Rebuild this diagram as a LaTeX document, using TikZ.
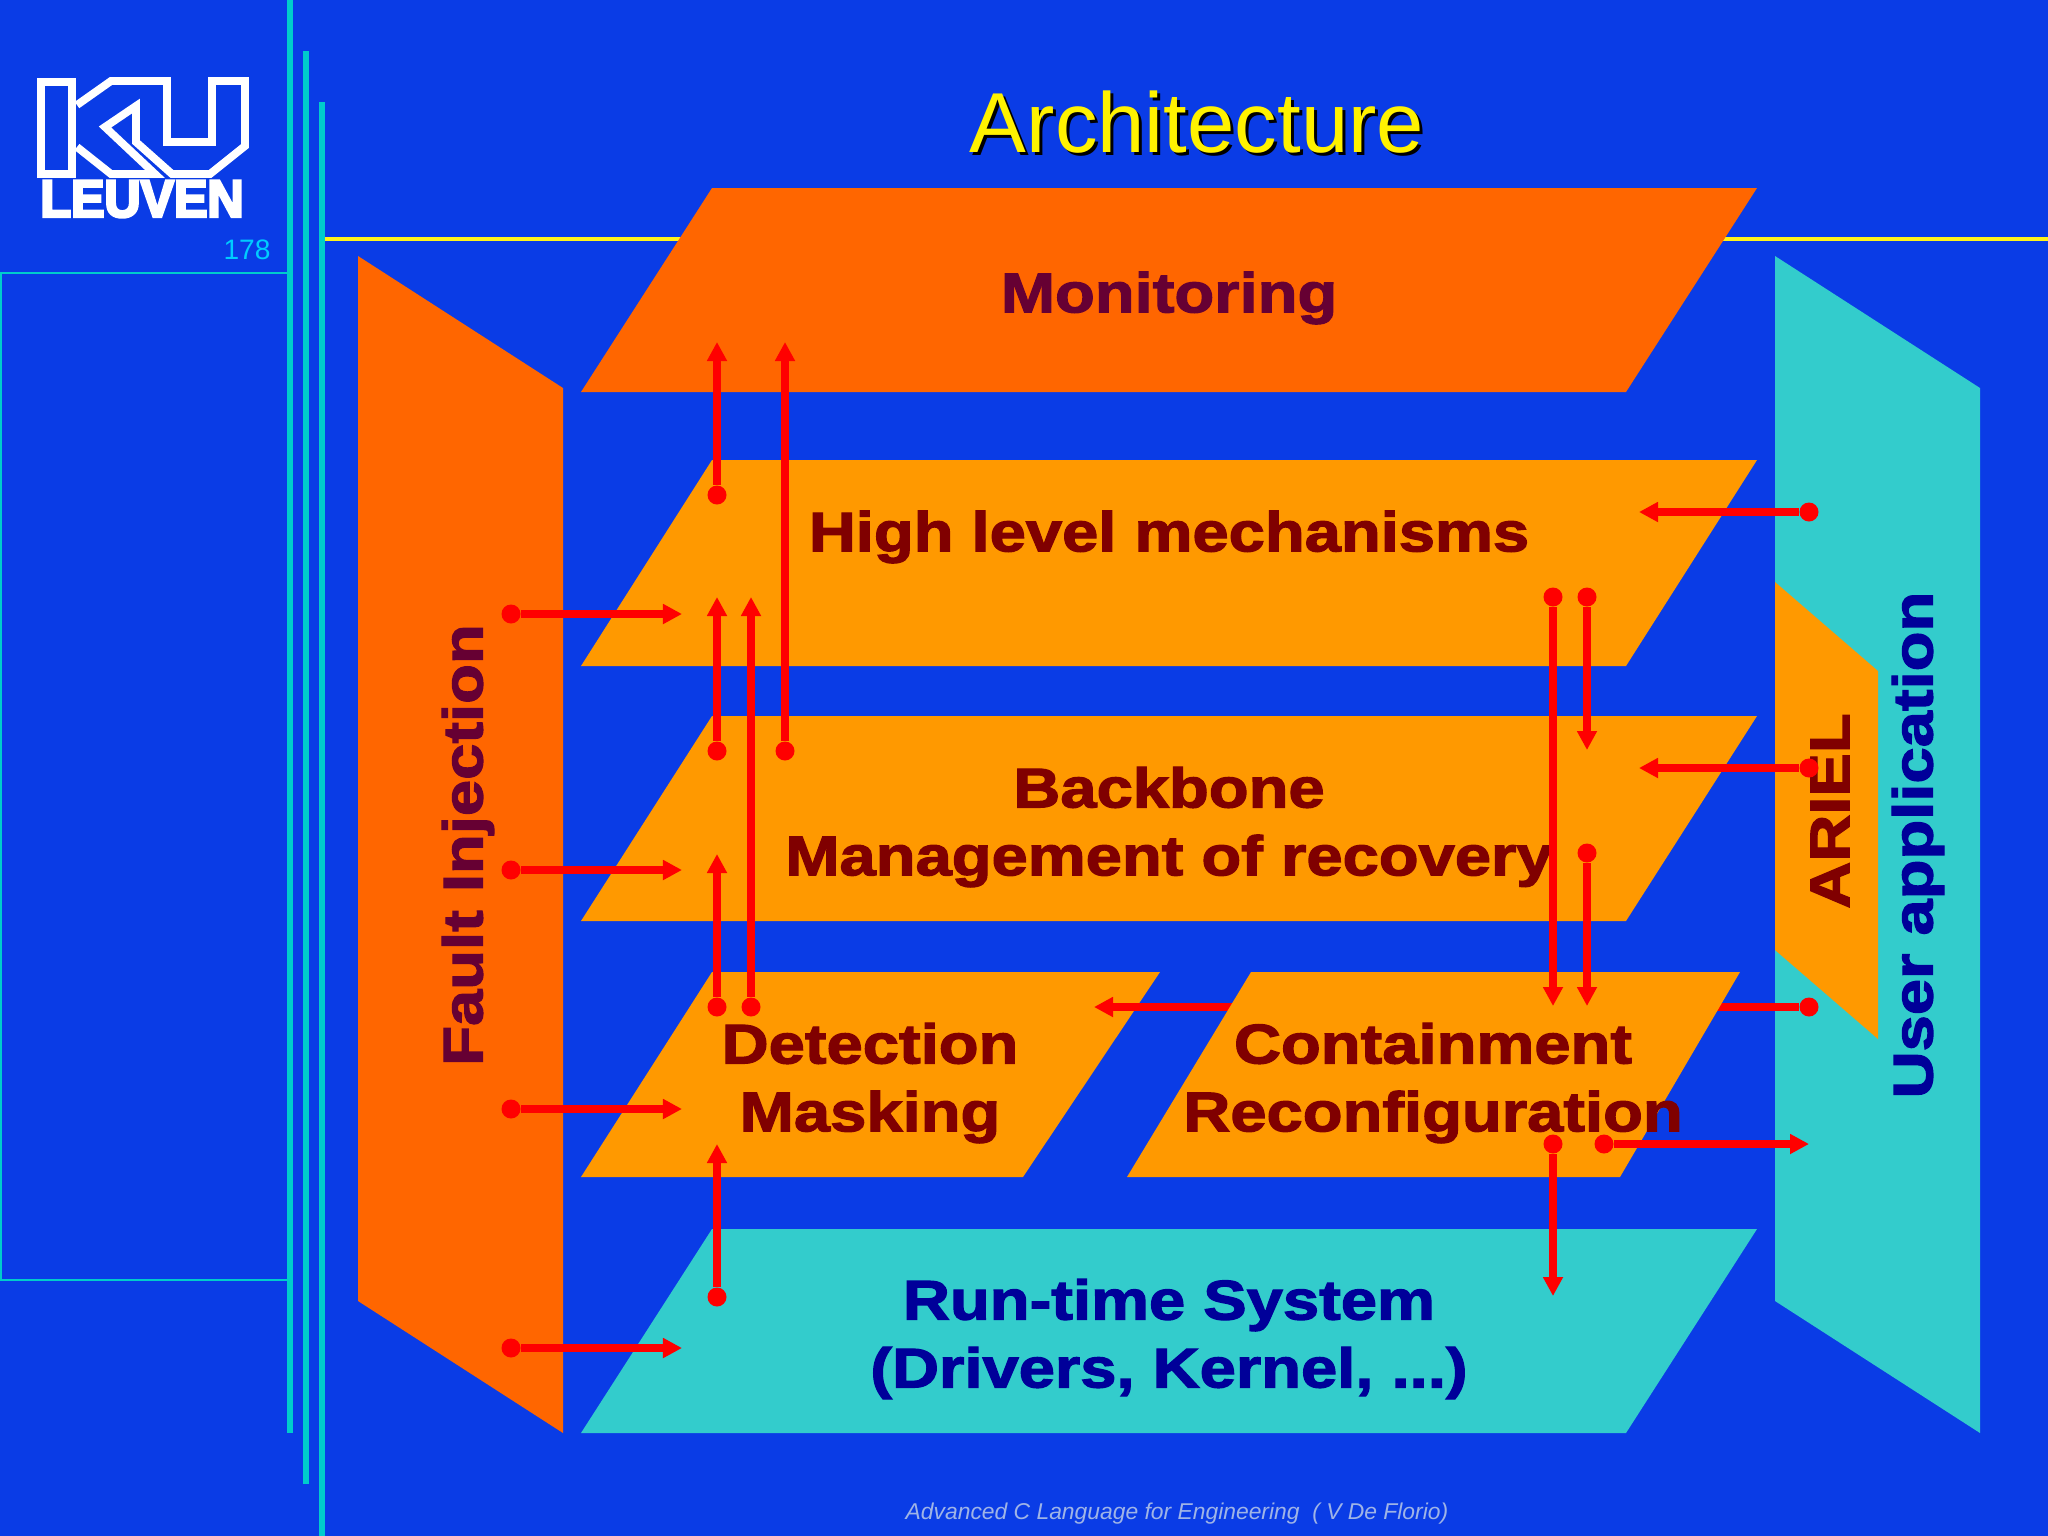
\documentclass[tikz,border=0pt]{standalone}
\usepackage{fontspec}
\setmainfont{Liberation Sans}
\newfontfamily\heavyfont[UprightFont=* Bold,FakeBold=2.2,FakeStretch=1.165]{Liberation Sans}
\newfontfamily\logofont[UprightFont=* Bold,FakeBold=5,FakeStretch=.95]{Liberation Sans}
\usetikzlibrary{arrows.meta}

\definecolor{slideblue}{HTML}{0A3CE6}
\definecolor{railcyan}{HTML}{00CCCC}
\definecolor{panelcyan}{HTML}{33CCCC}
\definecolor{panelamber}{HTML}{FF9900}
\definecolor{panelorange}{HTML}{FF6600}
\definecolor{numcyan}{HTML}{00CCFF}
\definecolor{inkred}{HTML}{800000}
\definecolor{inkplum}{HTML}{660033}
\definecolor{inknavy}{HTML}{000099}
\definecolor{footgrey}{HTML}{9FB4E6}

\tikzset{
  heading/.style={inner sep=0, align=center, font=\heavyfont\fontsize{15.9}{19.3}\selectfont},
  flowdot/.style={circle, fill=red, inner sep=0, minimum size=.19cm},
  flow/.style={draw=red, line width=.078cm},
  flowtip/.style={flow, -{Triangle[width=.19cm,length=.19cm]}}
}

\begin{document}
\begin{tikzpicture}[x=.01cm,y=-.01cm]
        \useasboundingbox (0,0) rectangle (2048,1536);
        \fill[slideblue] (0,0) rectangle (2048,1536);

        % rails and rules
        \draw[yellow!90!white, line width=.04cm] (325,239) -- (2048,239);
        \fill[railcyan] (287,0) rectangle (293,1433);
        \fill[railcyan] (303,51) rectangle (309,1484);
        \fill[railcyan] (319,102) rectangle (325,1536);
        \draw[railcyan, line width=.015cm] (288,273) -- (1,273) -- (1,1280) -- (288,1280);

        % logo
        \begin{scope}[draw=white, line width=.078cm, line join=miter]
          \draw (41,82) -- (72,82) -- (72,174) -- (41,174) -- cycle;
          \draw (77,105) -- (111,81) -- (167,81) -- (167,142) -- (212,142) -- (212,81) -- (245,81)
            -- (245,146) -- (210,174) -- (172,174) -- (136,142) -- (136,106) -- (105,127)
            -- (155,174) -- (111,174) -- (77,147);
        \end{scope}
        \node[text=white, inner sep=0, font=\logofont\fontsize{15}{15}\selectfont] (leuven) at (142,199) {LEUVEN};
        \node[text=numcyan, inner sep=0, font=\fontsize{8}{8}\selectfont] (page) at (247,250) {178};

        % title and footer
        \node[text=black, inner sep=0, font=\fontsize{24.2}{24.2}\selectfont] (titleshadow) at (1200,125) {Architecture};
        \node[text=yellow, inner sep=0, font=\fontsize{24.2}{24.2}\selectfont] (title) at (1197,122) {Architecture};
        \node[text=footgrey, inner sep=0, font=\itshape\fontsize{6.5}{6.5}\selectfont] (footer) at (1177,1514) {Advanced C Language for Engineering\ \ ( V De Florio)};

        % panels
        \fill[panelorange] (712,188) -- (1757,188) -- (1626,392) -- (581,392) -- cycle;
        \fill[panelamber] (712,460) -- (1757,460) -- (1626,666) -- (581,666) -- cycle;
        \fill[panelamber] (712,716) -- (1757,716) -- (1626,921) -- (581,921) -- cycle;
        \fill[panelamber] (712,972) -- (1160,972) -- (1023,1177) -- (581,1177) -- cycle;
        \fill[panelcyan] (712,1229) -- (1757,1229) -- (1626,1433) -- (581,1433) -- cycle;
        \fill[panelorange] (358,256) -- (563,388) -- (563,1433) -- (358,1301) -- cycle;
        \fill[panelcyan] (1775,256) -- (1980,388) -- (1980,1433) -- (1775,1301) -- cycle;
        \fill[panelamber] (1775,582) -- (1878,671) -- (1878,1039) -- (1775,950) -- cycle;

        % labels
        \node[heading, text=inkplum] (monitoring) at (1169,298) {Monitoring};
        \node[heading, text=inkred] (high) at (1169,537) {High level mechanisms};
        \node[heading, text=inkred] (backbone) at (1169,827) {Backbone\\Management of recovery};
        \node[heading, text=inkred] (detection) at (870,1083) {Detection\\Masking};
        \node[heading, text=inknavy] (runtime) at (1169,1339) {Run-time System\\(Drivers, Kernel, ...)};
        \node[heading, text=inkplum, rotate=90] (fault) at (468,845) {Fault Injection};
        \node[heading, text=inknavy, rotate=90] (user) at (1918,845) {User application};
        \node[heading, text=inkred, rotate=90] (ariel) at (1830,811) {ARIEL};

        % the arrow that runs behind the containment panel
        \node[flowdot] (n0) at (1809,1007) {};
        \coordinate (n1) at (1094,1007);
        \draw[flowtip] (n0) -- (n1);

        \fill[panelamber] (1251,972) -- (1740,972) -- (1620,1177) -- (1127,1177) -- cycle;
        \node[heading, text=inkred] (containment) at (1433,1083) {Containment\\Reconfiguration};

        % arrow starts
        \begin{scope}[every node/.style={flowdot}]
          \node (a0) at (717,495) {};
          \node (b0) at (785,751) {};
          \node (c0) at (717,751) {};
          \node (d0) at (751,1007) {};
          \node (e0) at (717,1007) {};
          \node (f0) at (717,1297) {};
          \node (g0) at (1553,597) {};
          \node (h0) at (1587,597) {};
          \node (i0) at (1587,853) {};
          \node (j0) at (1553,1144) {};
          \node (k0) at (1604,1144) {};
          \node (l0) at (1809,512) {};
          \node (m0) at (1809,768) {};
          \node (q0) at (511,614) {};
          \node (r0) at (511,870) {};
          \node (s0) at (511,1109) {};
          \node (t0) at (511,1348) {};
        \end{scope}

        % arrow ends
        \coordinate (a1) at (717,342);
        \coordinate (b1) at (785,342);
        \coordinate (c1) at (717,597);
        \coordinate (d1) at (751,597);
        \coordinate (e1) at (717,854);
        \coordinate (f1) at (717,1144);
        \coordinate (g1) at (1553,1006);
        \coordinate (h1) at (1587,750);
        \coordinate (i1) at (1587,1006);
        \coordinate (j1) at (1553,1296);
        \coordinate (k1) at (1809,1144);
        \coordinate (l1) at (1639,512);
        \coordinate (m1) at (1639,768);
        \coordinate (q1) at (682,614);
        \coordinate (r1) at (682,870);
        \coordinate (s1) at (682,1109);
        \coordinate (t1) at (682,1348);

        \begin{scope}[every path/.style={flowtip}]
          \path (a0) -- (a1);
          \path (b0) -- (b1);
          \path (c0) -- (c1);
          \path (d0) -- (d1);
          \path (e0) -- (e1);
          \path (f0) -- (f1);
          \path (g0) -- (g1);
          \path (h0) -- (h1);
          \path (i0) -- (i1);
          \path (j0) -- (j1);
          \path (k0) -- (k1);
          \path (l0) -- (l1);
          \path (m0) -- (m1);
          \path (q0) -- (q1);
          \path (r0) -- (r1);
          \path (s0) -- (s1);
          \path (t0) -- (t1);
        \end{scope}

      \end{tikzpicture}
\end{document}
